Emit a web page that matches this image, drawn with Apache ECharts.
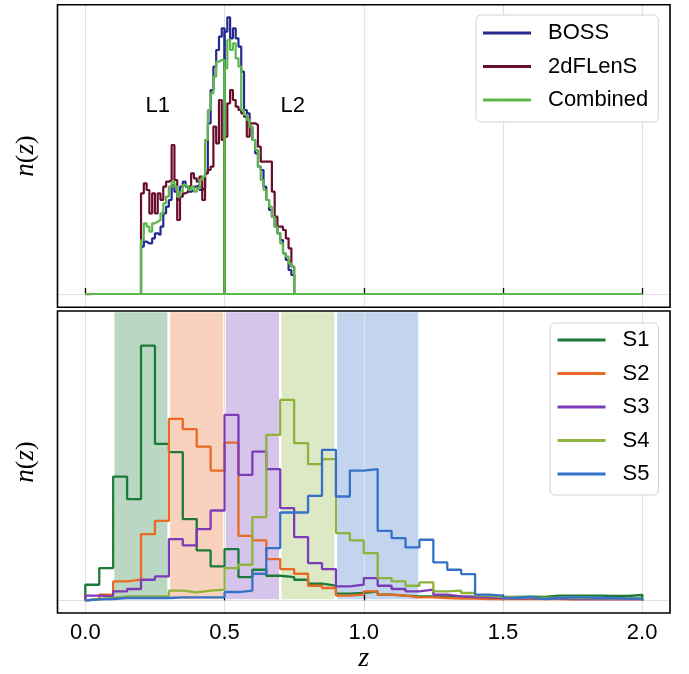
<!DOCTYPE html>
<html><head><meta charset="utf-8">
<script src="https://cdn.jsdelivr.net/npm/echarts@6.0.0/dist/echarts.min.js"></script>
<style>html,body{margin:0;padding:0;background:#fff}#c{width:689px;height:674px}</style>
</head><body><div id="c"></div>
<script>
// ---------- data ----------
const xTicks = [0, 0.5, 1.0, 1.5, 2.0];
const zRange = [0, 2.0];
// lens samples: L1 0.20-0.50, L2 0.50-0.75, bin width 0.01
const lensL1Start = 0.20, lensL2Start = 0.50, lensBin = 0.01;
const bossL1 = [47.3,52.3,50.7,50.7,55.7,60.7,59,67.3,80.7,87.3,94,109,102.3,94,107.3,112.3,107.3,102.3,104,107.3,109,104,105.7,120.7,170.7,204,227.3,244,257.3,265.7];
const bossL2 = [262.3,276.7,255.7,265.7,255.7,247.3,222.3,184,180.7,167.3,154,140.7,127.3,124,107.3,94,84,77.3,67.3,60.7,54,40.7,34,24,19];
const dfL1 = [100.7,110.7,104,80.7,100.7,80.7,100.7,94,107.3,112.3,114,149,114,74,97.3,100.7,102.3,107.3,120.7,115.7,112.3,117.3,94,120.7,124,127.3,167.3,150.7,194,154];
const dfL2 = [157.3,190.7,204,194,187.3,184,180.7,177.3,157.3,170.7,170.7,169,147.3,132.3,132.3,132.3,132.3,102.3,77.3,67.3,67.3,64,55.7,45.7,27.3];
const combL1 = [54,70.7,67.3,62.3,70.7,72.3,74,80.7,90.7,97.3,107.3,112.3,107.3,97.3,102.3,109,107.3,104,107.3,102.3,105.7,114,117.3,154,184,200.7,217.3,232.3,234,234];
const combL2 = [225.7,254,244,250.7,235.7,227.3,184,179,174,167.3,154,144,127.3,114,104,94,87.3,77.3,67.3,60.7,50.7,40.7,37.3,30.7,27.3];
const topNames = ['BOSS', '2dFLenS', 'Combined'];
const annotLabels = ['L1', 'L2'];
const annotZ = [0.26, 0.745];
const annotN = [188, 188];

// source samples: bins of 0.05 from 0 to 2
const sStart = 0, sBin = 0.05;
const S1 = [15.7,32.4,124,101.4,255,156.7,148.4,81.4,50,34,51.4,23.4,30.7,24.7,23.4,20.7,16.7,14.7,6.7,7.4,9,5.7,4.7,4,4,4,3.7,3.4,3.4,3.4,3.4,3.7,3.4,4.7,4.7,4.7,4.7,4.4,4.4,5.4];
const S2 = [1.4,5.7,19,20.7,66.4,79.7,181.7,171.4,154,130,158,64.7,60,41.4,31.4,26.7,14.7,12.4,4.7,5.7,9,5.7,4.7,3,3,2.4,1.7,1.7,1.4,1.4,1.4,1.2,1.2,1.2,1,1,1,1,1,1];
const S3 = [4.7,4,9,11.4,20.7,24,61.4,55,71.4,90,185.7,125.7,149,131.4,92.4,63.4,37.4,31.4,14,15.7,22.4,14.7,11.4,9,10.7,5.7,4,3.4,3,2.4,2,2,1.7,1.7,1.4,1.4,1.4,1.4,1.2,1.2];
const S4 = [1.4,2.4,4,4,4,4,9.7,8,9.7,10.7,32.4,35.7,83.4,165.7,200.7,157.4,136.4,141.4,67.4,60,47.4,22.4,19,14.7,18,9,9.7,7.4,4.7,3.4,3,2.7,2.4,2.4,2.4,2.4,2,2,2,2];
const S5 = [1,1.4,2.4,2.4,2.4,2.4,3,3,3,3,8.4,9.7,26.7,52.4,88,88,104.7,150.7,104,130,131.4,69.7,62.4,53,60.7,38,30.7,26.4,5.7,4.7,2.4,3.4,1.4,2.4,3,3,2.4,2.4,1.7,1.7];
const sNames = ['S1', 'S2', 'S3', 'S4', 'S5'];
const bandEdges = [0.1, 0.3, 0.5, 0.7, 0.9, 1.2];

// ---------- styling ----------
const topColors = ['#262a8e', '#6a0d2c', '#5cb84a'];
const sColors = ['#1b7a38', '#e86a24', '#7c3cb8', '#8db33a', '#3571c8'];
const topY = [-13.3, 289.3];
const botY = [-12.6, 289.7];
const sans = 'Liberation Sans';
const serif = 'Liberation Serif';

function stepPoints(start, width, vals) {
  const pts = [[zRange[0], 0], [start, 0]];
  vals.forEach((v, i) => pts.push([+(start + i * width).toFixed(4), v]));
  pts.push([+(start + vals.length * width).toFixed(4), 0]);
  pts.push([zRange[1], 0]);
  return pts;
}
function hexA(hex, a) {
  const n = parseInt(hex.slice(1), 16);
  return `rgba(${n >> 16},${(n >> 8) & 255},${n & 255},${a})`;
}

const series = [];
const topSets = [[bossL1, bossL2], [dfL1, dfL2], [combL1, combL2]];
topSets.forEach((pair, k) => {
  [[lensL1Start, pair[0]], [lensL2Start, pair[1]]].forEach(([st, vals]) => {
    series.push({
      name: topNames[k], type: 'line', xAxisIndex: 0, yAxisIndex: 0,
      step: 'end', symbol: 'none', color: topColors[k],
      lineStyle: { width: 2.2, color: topColors[k] }, z: 3 + k,
      data: stepPoints(st, lensBin, vals), animation: false
    });
  });
});
series.push({
  type: 'scatter', xAxisIndex: 0, yAxisIndex: 0, symbolSize: 0, z: 10,
  data: annotLabels.map((t, i) => ({ value: [annotZ[i], annotN[i]], name: t })),
  label: { show: true, position: 'inside', formatter: p => p.name, color: '#000', opacity: 1,
           fontFamily: sans, fontSize: 22 },
  animation: false, silent: true
});
// bands
series.push({
  type: 'line', xAxisIndex: 1, yAxisIndex: 1, data: [], z: -2, symbol: 'none',
  markArea: {
    silent: true, z: -2,
    data: sNames.map((n, i) => [
      { xAxis: bandEdges[i], yAxis: 0, itemStyle: { color: hexA(sColors[i], 0.3), borderColor: '#ffffff', borderWidth: 2.5 } },
      { xAxis: bandEdges[i + 1], yAxis: botY[1] }
    ])
  },
  animation: false
});
[S1, S2, S3, S4, S5].forEach((vals, k) => {
  series.push({
    name: sNames[k], type: 'line', xAxisIndex: 1, yAxisIndex: 1,
    step: 'end', symbol: 'none', color: sColors[k],
    lineStyle: { width: 2.3, color: sColors[k] }, z: 3 + k,
    data: stepPoints(sStart, sBin, vals), animation: false
  });
});

const xBase = (idx, labels) => ({
  type: 'value', gridIndex: idx, min: -0.1, max: 2.1,
  axisLine: { show: false },
  axisTick: { show: true, inside: true, length: 6, customValues: xTicks, lineStyle: { color: '#000', width: 1.3 } },
  axisLabel: { show: labels, customValues: xTicks, color: '#000', fontFamily: sans, fontSize: 22, margin: 9,
               formatter: v => v.toFixed(1) },
  splitLine: { show: true, lineStyle: { color: '#e2e2e2', width: 1.2 } }
});
const mathRich = {
  i: { fontFamily: serif, fontStyle: 'italic', fontSize: 27, color: '#000' },
  r: { fontFamily: serif, fontSize: 26, color: '#000' }
};
const yBase = (idx, ext) => ({
  type: 'value', gridIndex: idx, min: ext[0], max: ext[1],
  name: '{i|n}{r|(}{i|z}{r|)}', nameLocation: 'middle', nameGap: 18, nameRotate: 90,
  nameTextStyle: { fontFamily: serif, fontSize: 26, color: '#000', rich: mathRich },
  axisLine: { show: false },
  axisTick: { show: true, inside: true, length: 6, customValues: [0], lineStyle: { color: '#000', width: 1.3 } },
  axisLabel: { show: false },
  splitLine: { show: true, lineStyle: { color: '#e2e2e2', width: 1.2 } }
});

const legendCommon = {
  orient: 'vertical', icon: 'rect', itemWidth: 48, itemHeight: 3,
  backgroundColor: 'rgba(255,255,255,0.85)', borderColor: '#d2d2d2', borderWidth: 1, borderRadius: 5,
  textStyle: { fontFamily: sans, fontSize: 22, color: '#000', lineHeight: 22, padding: [0, 0, 0, 12] },
  itemGap: 11.5
};

const option = {
  backgroundColor: '#fff',
  animation: false,
  grid: [
    { left: 57.5, top: 4.7, width: 612.5, height: 302.6, show: true, borderColor: '#000', borderWidth: 1.6, backgroundColor: 'transparent', z: 1 },
    { left: 57.5, top: 311, width: 612.5, height: 302.3, show: true, borderColor: '#000', borderWidth: 1.6, backgroundColor: 'transparent', z: 1 }
  ],
  xAxis: [
    xBase(0, false),
    Object.assign(xBase(1, true), { name: 'z', nameLocation: 'middle', nameGap: 32,
      nameTextStyle: { fontFamily: serif, fontStyle: 'italic', fontSize: 28, color: '#000' } })
  ],
  yAxis: [yBase(0, topY), yBase(1, botY)],
  legend: [
    Object.assign({}, legendCommon, { data: topNames, left: 476, top: 15, padding: [7, 10, 11, 7] }),
    Object.assign({}, legendCommon, { data: sNames, left: 550, top: 323, padding: [6, 9, 10, 7.5] })
  ],
  series: series
};

const chart = echarts.init(document.getElementById('c'), null, { renderer: 'canvas' });
chart.setOption(option);
</script>
</body></html>
